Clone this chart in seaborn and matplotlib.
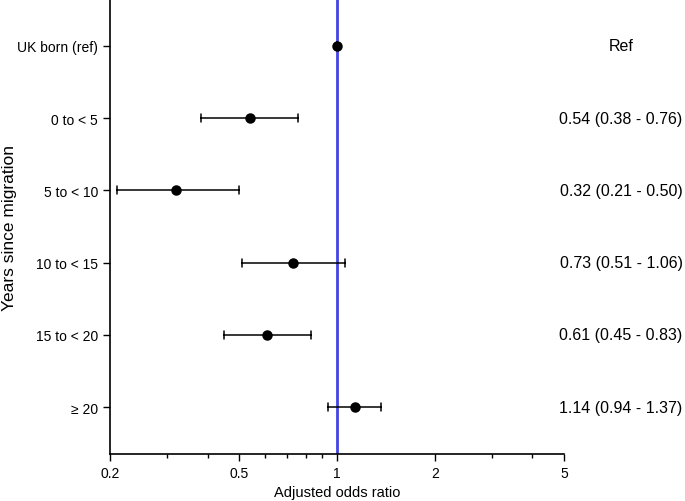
import matplotlib
matplotlib.use("Agg")
import matplotlib.pyplot as plt
import matplotlib.ticker as mticker
import numpy as np
import pandas as pd
import seaborn as sns

# Dane
groups = ["UK born (ref)", "0 to < 5", "5 to < 10", "10 to < 15", "15 to < 20", "≥ 20"]
odds = [1.0, 0.54, 0.32, 0.73, 0.61, 1.14]
lower = [1.0, 0.38, 0.21, 0.51, 0.45, 0.94]
upper = [1.0, 0.76, 0.50, 1.06, 0.83, 1.37]
labels = ["Ref", "0.54 (0.38 - 0.76)", "0.32 (0.21 - 0.50)", "0.73 (0.51 - 1.06)",
          "0.61 (0.45 - 0.83)", "1.14 (0.94 - 1.37)"]

# Format długi: mediana z (dolna, OR, górna) = OR, zakres = przedział ufności
df = pd.DataFrame({
    "group": np.repeat(groups, 3),
    "value": np.ravel(np.column_stack([lower, odds, upper])),
})

sns.set_style("ticks", {"text.color": "black", "axes.labelcolor": "black",
                        "xtick.color": "black", "ytick.color": "black",
                        "axes.edgecolor": "black"})
plt.rcParams["font.family"] = ["Liberation Sans", "DejaVu Sans"]

fig = plt.figure(figsize=(6.85, 5.02), dpi=100)
ax = fig.add_axes([0.1606, 0.0936, 0.6627, 0.9064])

ax.axvline(1, color="#4444e4", linewidth=2, zorder=1)
sns.pointplot(data=df, x="value", y="group", order=groups, estimator="median",
              errorbar=lambda v: (v.min(), v.max()), linestyle="none", color="black",
              capsize=0.11, err_kws={"linewidth": 1.1}, markersize=5.5,
              log_scale=True, ax=ax, zorder=3)

ax.set_xlim(0.2, 5)
ax.set_ylim(5.65, -0.65)
ax.xaxis.set_major_locator(mticker.FixedLocator([0.2, 0.5, 1, 2, 5]))
ax.xaxis.set_major_formatter(mticker.FixedFormatter(["0.2", "0.5", "1", "2", "5"]))
ax.xaxis.set_minor_locator(mticker.FixedLocator([0.3, 0.4, 0.6, 0.7, 0.8, 0.9, 3, 4]))
ax.xaxis.set_minor_formatter(mticker.NullFormatter())
ax.tick_params(axis="both", which="major", labelsize=10, length=5, width=1,
               color="black", labelcolor="black")
ax.tick_params(axis="x", which="minor", length=3, width=1, color="black")
for s in ["left", "bottom"]:
    ax.spines[s].set_color("black")
    ax.spines[s].set_linewidth(1.2)
sns.despine(ax=ax)
ax.grid(False)

ax.set_xlabel("Adjusted odds ratio", fontsize=10.5, color="black")
ax.set_ylabel("Years since migration", fontsize=12.5, color="black")
ax.yaxis.set_label_coords(-0.205, 0.5)

# Tekst po prawej stronie
for i, t in enumerate(labels):
    ax.annotate(t, xy=(621 / 685, i), xycoords=("figure fraction", "data"),
                ha="center", va="center", fontsize=11.5, color="black",
                annotation_clip=False)

fig.savefig("out.png", dpi=100)
